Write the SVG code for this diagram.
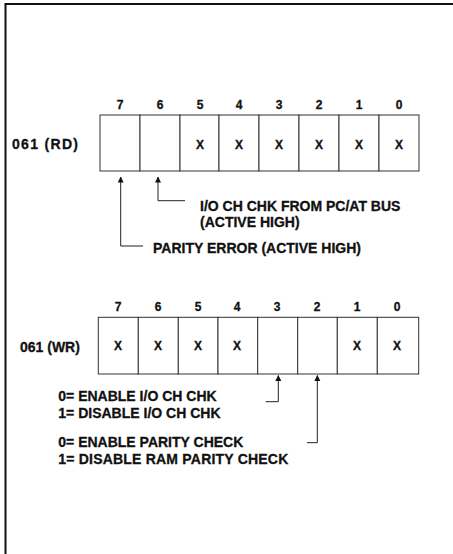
<svg xmlns="http://www.w3.org/2000/svg" width="453" height="554" viewBox="0 0 453 554">
<style>
text{font-family:"Liberation Sans",Arial,Helvetica,sans-serif;font-weight:bold;fill:#111;stroke:#111;stroke-width:0.3}
.lbl{font-size:14px}
.dig{font-size:12px;text-anchor:middle}
.cell{fill:#fff;stroke:#333;stroke-width:1}
.con{fill:none;stroke:#222;stroke-width:1}
.frame{fill:none;stroke:#111;stroke-width:2}
</style>
<defs>
<marker id="ah" markerWidth="6" markerHeight="8" refX="5.5" refY="3" orient="auto" markerUnits="userSpaceOnUse">
<path d="M0,0 L6,3 L0,6 z" fill="#111"/>
</marker>
</defs>
<rect width="453" height="554" fill="#fff"/>
<path class="frame" d="M5.5,560 V4 H460"/>

<g id="rd-register">
<text class="lbl" x="12" y="149" textLength="66" lengthAdjust="spacing">061 (RD)</text>
<g class="dig-labels">
<text class="dig" x="120" y="108.5">7</text>
<text class="dig" x="160" y="108.5">6</text>
<text class="dig" x="200" y="108.5">5</text>
<text class="dig" x="239" y="108.5">4</text>
<text class="dig" x="279" y="108.5">3</text>
<text class="dig" x="319" y="108.5">2</text>
<text class="dig" x="359" y="108.5">1</text>
<text class="dig" x="399" y="108.5">0</text>
</g>
<rect class="cell" x="100" y="115" width="40" height="56"/>
<rect class="cell" x="140" y="115" width="40" height="56"/>
<rect class="cell" x="180" y="115" width="39" height="56"/>
<rect class="cell" x="219" y="115" width="40" height="56"/>
<rect class="cell" x="259" y="115" width="40" height="56"/>
<rect class="cell" x="299" y="115" width="40" height="56"/>
<rect class="cell" x="339" y="115" width="40" height="56"/>
<rect class="cell" x="379" y="115" width="40" height="56"/>
<text class="dig" x="200" y="148.5">X</text>
<text class="dig" x="239" y="148.5">X</text>
<text class="dig" x="279" y="148.5">X</text>
<text class="dig" x="319" y="148.5">X</text>
<text class="dig" x="359" y="148.5">X</text>
<text class="dig" x="399" y="148.5">X</text>
</g>

<g id="rd-notes">
<text class="lbl" x="200" y="210.7">I/O CH CHK FROM PC/AT BUS</text>
<text class="lbl" x="200" y="226.8">(ACTIVE HIGH)</text>
<text class="lbl" x="153" y="253">PARITY ERROR (ACTIVE HIGH)</text>
</g>

<g id="wr-register">
<text class="lbl" x="20" y="351.5">061 (WR)</text>
<g class="dig-labels">
<text class="dig" x="118" y="310.5">7</text>
<text class="dig" x="158" y="310.5">6</text>
<text class="dig" x="198" y="310.5">5</text>
<text class="dig" x="237" y="310.5">4</text>
<text class="dig" x="277" y="310.5">3</text>
<text class="dig" x="317" y="310.5">2</text>
<text class="dig" x="357" y="310.5">1</text>
<text class="dig" x="397" y="310.5">0</text>
</g>
<rect class="cell" x="98.3" y="317.3" width="40" height="56.7"/>
<rect class="cell" x="138.3" y="317.3" width="40" height="56.7"/>
<rect class="cell" x="178.3" y="317.3" width="39.7" height="56.7"/>
<rect class="cell" x="218" y="317.3" width="39.7" height="56.7"/>
<rect class="cell" x="257.7" y="317.3" width="40" height="56.7"/>
<rect class="cell" x="297.7" y="317.3" width="39.6" height="56.7"/>
<rect class="cell" x="337.3" y="317.3" width="40" height="56.7"/>
<rect class="cell" x="377.3" y="317.3" width="41.4" height="56.7"/>
<text class="dig" x="118" y="350.3">X</text>
<text class="dig" x="158" y="350.3">X</text>
<text class="dig" x="198" y="350.3">X</text>
<text class="dig" x="237" y="350.3">X</text>
<text class="dig" x="357" y="350.3">X</text>
<text class="dig" x="397" y="350.3">X</text>
</g>

<g id="wr-notes">
<text class="lbl" x="58.3" y="400.7">0= ENABLE I/O CH CHK</text>
<text class="lbl" x="58.3" y="417.7">1= DISABLE I/O CH CHK</text>
<text class="lbl" x="58.3" y="446.7">0= ENABLE PARITY CHECK</text>
<text class="lbl" x="58.3" y="464.3" textLength="230" lengthAdjust="spacing">1= DISABLE RAM PARITY CHECK</text>
</g>

<g id="connectors">
<path class="con" d="M143,246 H120.7 V177" marker-end="url(#ah)"/>
<path class="con" d="M185,200.7 H158 V177" marker-end="url(#ah)"/>
<path class="con" d="M265.7,401.7 H278.3 V375.5" marker-end="url(#ah)"/>
<path class="con" d="M307,442.7 H317.3 V375.5" marker-end="url(#ah)"/>
</g>
</svg>
